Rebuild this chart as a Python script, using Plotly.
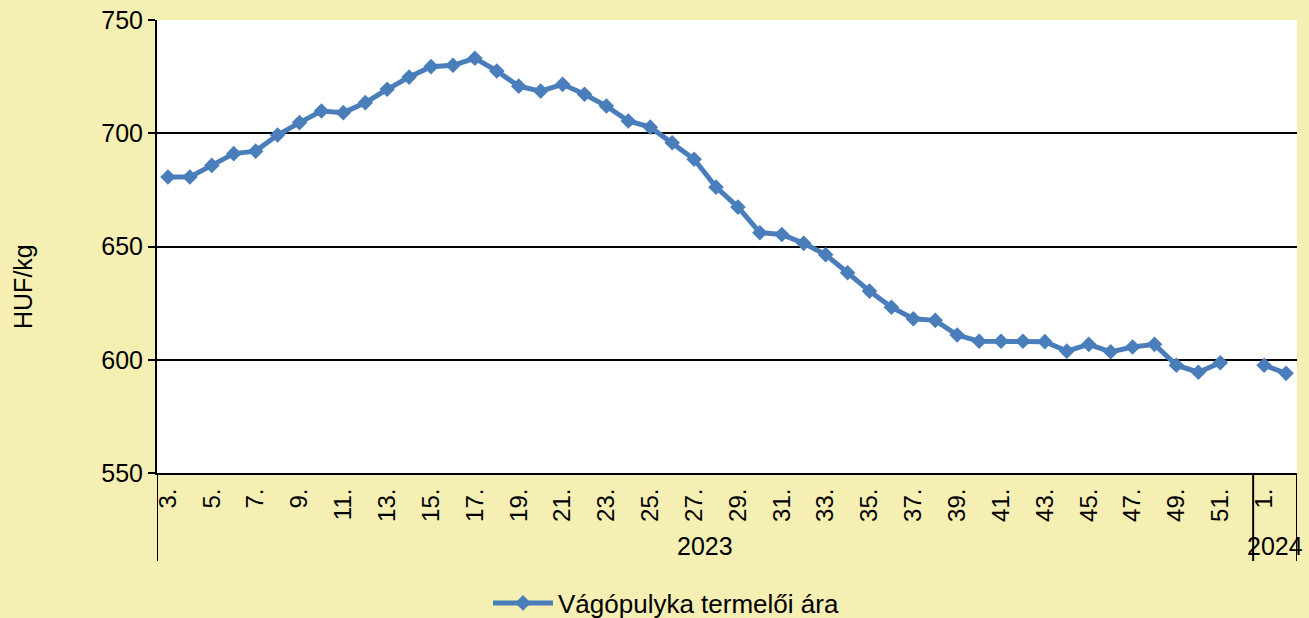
import plotly.graph_objects as go

# ---- data ----
weeks_2023 = [f"{w}." for w in range(3, 53)]
weeks_2024 = ["1.", "2."]
categories = weeks_2023 + weeks_2024
prices = [
    680.7, 680.7, 685.8, 691.0, 692.1, 699.2, 704.7, 709.8, 709.1, 713.5,   # 3-12
    719.4, 724.8, 729.4, 730.0, 733.1, 727.5, 720.8, 718.6, 721.6, 717.2,   # 13-22
    712.0, 705.4, 702.7, 695.8, 688.5, 676.2, 667.4, 656.1, 655.3, 651.4,   # 23-32
    646.4, 638.4, 630.3, 623.2, 618.1, 617.4, 610.9, 608.2, 608.2, 608.2,   # 33-42
    608.0, 603.8, 606.8, 603.5, 605.6, 606.8, 597.6, 594.5, 598.7, None,    # 43-52
    597.6, 594.0,                                                           # 2024: 1-2
]
year_labels = ["2023", "2024"]
series_name = "Vágópulyka termelői ára"
y_title = "HUF/kg"
y_ticks = [550, 600, 650, 700, 750]

BG = "#F5EFB4"
BLUE = "#4A7EBB"
FONT = "Liberation Sans, Arial, sans-serif"

W, H = 1309, 618
L, R, T, B = 157, 12, 20, 145
PW, PH = W - L - R, H - T - B


def px_to_paper_x(px):
    return (px - L) / PW


def px_to_paper_y(py):
    return (H - B - py) / PH


fig = go.Figure()
fig.add_trace(go.Scatter(
    x=categories, y=prices, name=series_name,
    mode="lines+markers",
    line=dict(color=BLUE, width=5),
    marker=dict(symbol="diamond", size=12, color=BLUE),
    connectgaps=False,
))

n23 = len(weeks_2023)
n = len(categories)
tick_vals = categories[::2]

fig.update_layout(
    width=W, height=H,
    paper_bgcolor=BG, plot_bgcolor="white",
    margin=dict(l=L, r=R, t=T, b=B, autoexpand=False),
    font=dict(family=FONT, size=25, color="black"),
    showlegend=True,
    legend=dict(orientation="h", x=px_to_paper_x(488), xanchor="left",
                y=px_to_paper_y(603), yanchor="middle",
                bgcolor="rgba(0,0,0,0)", font=dict(size=26), itemwidth=60),
    xaxis=dict(
        type="category", categoryorder="array", categoryarray=categories,
        range=[-0.5, n - 0.5],
        tickmode="array", tickvals=tick_vals, ticktext=tick_vals,
        tickangle=-90, ticks="", showgrid=False, tickfont=dict(size=24),
        showline=True, linecolor="black", linewidth=2,
        ticklabelstandoff=4,
    ),
    yaxis=dict(
        range=[550, 750], tickmode="array", tickvals=y_ticks,
        ticks="outside", ticklen=7, tickwidth=2, tickcolor="black",
        showgrid=True, gridcolor="black", gridwidth=2,
        showline=True, linecolor="black", linewidth=2,
        zeroline=False, ticklabelstandoff=0,
    ),
)

# multi-level category axis separators
for xpos in [-0.5, n23 - 0.5, n - 0.5]:
    fig.add_shape(type="line", xref="x", yref="paper", x0=xpos, x1=xpos,
                  y0=0, y1=px_to_paper_y(561), line=dict(color="black", width=2))

# year group labels
fig.add_annotation(x=(n23 - 1) / 2, y=px_to_paper_y(546), xref="x", yref="paper",
                   xanchor="center", yanchor="middle",
                   text=year_labels[0], showarrow=False, font=dict(size=25))
fig.add_annotation(x=n23 + 0.5, y=px_to_paper_y(546), xref="x", yref="paper",
                   xanchor="center", yanchor="middle",
                   text=year_labels[1], showarrow=False, font=dict(size=25))

# y-axis title
fig.add_annotation(x=px_to_paper_x(23), y=px_to_paper_y(287), xref="paper", yref="paper",
                   xanchor="center", yanchor="middle",
                   text=y_title, showarrow=False, textangle=-90, font=dict(size=25))

fig.write_html("out.html", config={"displayModeBar": False},
               post_script="document.body.style.margin='0';document.body.style.padding='0';")
